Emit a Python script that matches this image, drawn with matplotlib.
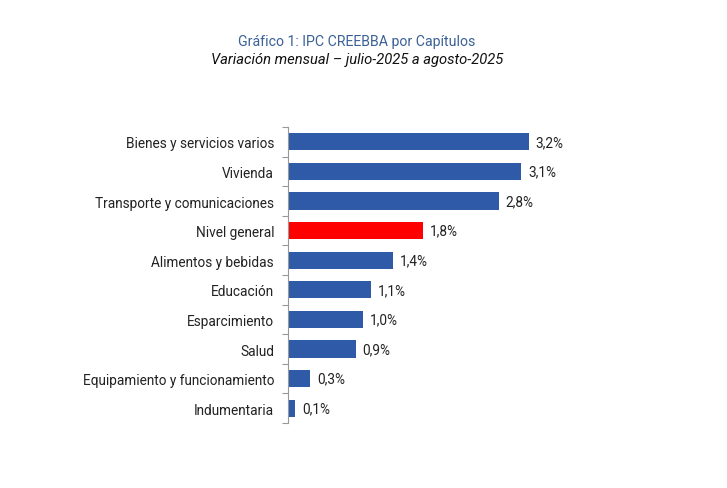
import numpy as np
import matplotlib.pyplot as plt

categorias = ['Bienes y servicios varios', 'Vivienda', 'Transporte y comunicaciones',
              'Nivel general', 'Alimentos y bebidas', 'Educación', 'Esparcimiento',
              'Salud', 'Equipamiento y funcionamiento', 'Indumentaria']
variacion = [3.2, 3.1, 2.8, 1.8, 1.4, 1.1, 1.0, 0.9, 0.3, 0.1]
etiquetas = ['3,2%', '3,1%', '2,8%', '1,8%', '1,4%', '1,1%', '1,0%', '0,9%', '0,3%', '0,1%']

plt.rcParams['font.family'] = ['Roboto', 'DejaVu Sans']

fig = plt.figure(figsize=(7.27, 4.89), dpi=100)
ax = fig.add_axes([0.396, 0.133, 0.4143, 0.605])

n = len(categorias)
y = np.arange(n)
colores = ['#FF0000' if c == 'Nivel general' else '#2E5AA8' for c in categorias]
ax.barh(y, variacion, height=0.58, color=colores)

for yi, v, t in zip(y, variacion, etiquetas):
    ax.text(v + 0.09, yi, t, va='center', ha='left', fontsize=9.8, color='#222222')

ax.set_ylim(n - 0.5, -0.5)
ax.set_xlim(0, 4)
ax.set_yticks(y)
ax.set_yticklabels(categorias, fontsize=9.8, color='#222222')
ax.tick_params(axis='y', length=0, pad=10)
ax.set_yticks(np.arange(-0.5, n, 1), minor=True)
ax.tick_params(axis='y', which='minor', length=4, color='#999999', width=0.8)
ax.set_xticks([])
for s in ['top', 'right', 'bottom']:
    ax.spines[s].set_visible(False)
ax.spines['left'].set_color('#999999')
ax.spines['left'].set_linewidth(0.8)

fig.text(0.491, 0.914, 'Gráfico 1: IPC CREEBBA por Capítulos', ha='center', va='center',
         fontsize=10.2, color='#3B6196')
fig.text(0.491, 0.877, 'Variación mensual – julio-2025 a agosto-2025', ha='center', va='center',
         fontsize=10.6, style='italic', color='#111111')

plt.savefig('out.png', dpi=100, facecolor='white')
plt.close()
